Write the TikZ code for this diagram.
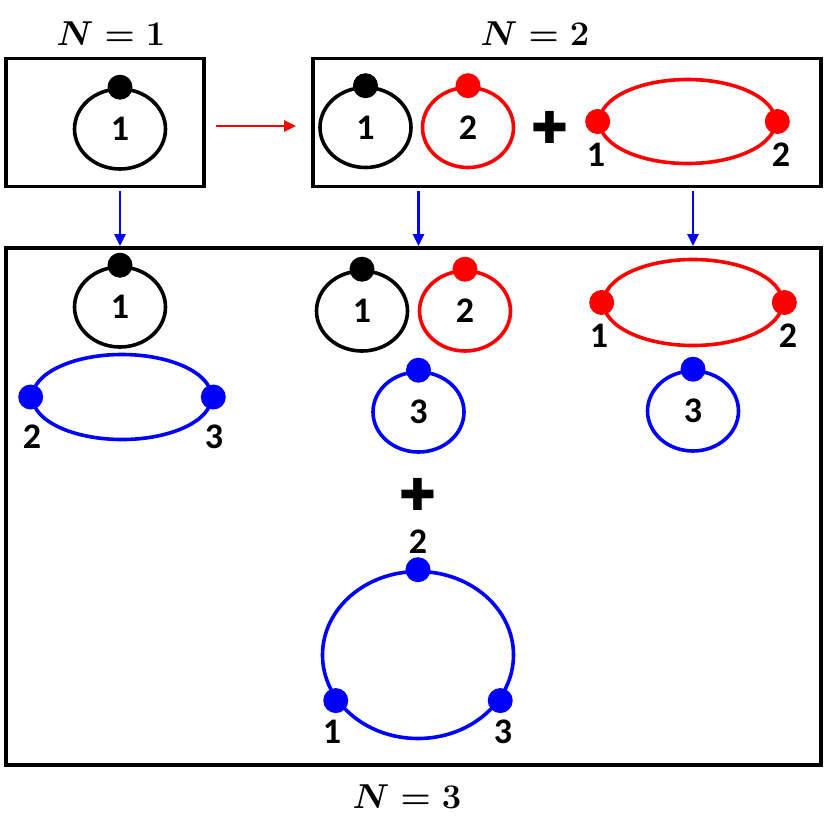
\documentclass[tikz,border=0pt]{standalone}
\usepackage[no-math]{fontspec}
\setmainfont{Carlito}
\newfontfamily\crossfont{DejaVu Sans}
\usetikzlibrary{positioning, arrows.meta, shapes.geometric}
\definecolor{ringRed}{HTML}{FF0000}
\definecolor{ringBlue}{HTML}{0000FF}

\tikzset{
  panel/.style={draw=black, line width=1.9pt, inner sep=0pt},
  ringnode/.style={ellipse, draw=#1, line width=1.8pt, inner sep=0pt,
    minimum width=45.5pt, minimum height=40pt,
    font=\fontsize{18}{20}\selectfont\bfseries},
  vertex/.style={circle, fill=#1, inner sep=0pt, minimum size=12.5pt},
  tag/.style={inner sep=0pt, font=\fontsize{18}{20}\selectfont\bfseries},
  title/.style={inner sep=0pt, font=\fontsize{18}{20}\selectfont\boldmath},
  plus/.style={inner sep=0pt, font=\crossfont\fontsize{22}{24}\selectfont},
  flow/.style={draw=#1, line width=1.2pt, -{Triangle[length=6pt, width=5.5pt]}}
}

\begin{document}
\begin{tikzpicture}[x=0.5pt, y=-0.5pt]
  \useasboundingbox (0,0) rectangle (830,830);

  % frames and titles
  \node[panel, minimum width=99pt, minimum height=64pt] (box1) at (105,122.5) {};
  \node[panel, minimum width=254pt, minimum height=64pt] (box2) at (567,122.5) {};
  \node[panel, minimum width=407.5pt, minimum height=258.5pt] (box3) at (413.5,506.5) {};
  \node[title] (t1) at (111,34) {$N=1$};
  \node[title] (t2) at (535,34) {$N=2$};
  \node[title] (t3) at (407,797) {$N=3$};

  % N = 1
  \node[ringnode=black] (a1) at (120,129) {1};
  \node[vertex=black] (a1d) at (a1.north) {};

  % N = 2
  \node[ringnode=black] (b1) at (365.5,127.5) {1};
  \node[vertex=black] (b1d) at (b1.north) {};
  \node[ringnode=ringRed] (b2) at (468,127.5) {2};
  \node[vertex=ringRed] (b2d) at (b2.north) {};
  \node[plus] (bp) at (550,127) {✚};
  \node[ringnode=ringRed, minimum width=88pt, minimum height=42pt] (b12) at (687.5,121.5) {};
  \node[vertex=ringRed] (b12w) at (b12.west) {};
  \node[vertex=ringRed] (b12e) at (b12.east) {};
  \node[tag] at (596,155) {1};
  \node[tag] at (781,155) {2};

  % N = 3, left column
  \node[ringnode=black] (c1) at (120,307) {1};
  \node[vertex=black] (c1d) at (c1.north) {};
  \node[ringnode=ringBlue, minimum width=89.5pt, minimum height=42.5pt] (c23) at (122,397) {};
  \node[vertex=ringBlue] (c23w) at (c23.west) {};
  \node[vertex=ringBlue] (c23e) at (c23.east) {};
  \node[tag] at (32,437) {2};
  \node[tag] at (214,437) {3};

  % N = 3, middle column
  \node[ringnode=black] (m1) at (362,311) {1};
  \node[vertex=black] (m1d) at (m1.north) {};
  \node[ringnode=ringRed] (m2) at (465,311) {2};
  \node[vertex=ringRed] (m2d) at (m2.north) {};
  \node[ringnode=ringBlue] (m3) at (418.5,412) {3};
  \node[vertex=ringBlue] (m3d) at (m3.north) {};
  \node[plus] (mp) at (418,494) {✚};
  \node[ringnode=ringBlue, minimum width=95.5pt, minimum height=83.5pt] (m123) at (418,655) {};
  \node[vertex=ringBlue] (m123n) at (m123.north) {};
  \node[vertex=ringBlue] (m123a) at (m123.209) {};
  \node[vertex=ringBlue] (m123b) at (m123.331) {};
  \node[tag] at (418,542) {2};
  \node[tag] at (332,732) {1};
  \node[tag] at (503,732) {3};

  % N = 3, right column
  \node[ringnode=ringRed, minimum width=89.5pt, minimum height=43pt] (r12) at (693,302.5) {};
  \node[vertex=ringRed] (r12w) at (r12.west) {};
  \node[vertex=ringRed] (r12e) at (r12.east) {};
  \node[tag] at (599,336) {1};
  \node[tag] at (788,336) {2};
  \node[ringnode=ringBlue] (r3) at (693,411) {3};
  \node[vertex=ringBlue] (r3d) at (r3.north) {};

  % arrows
  \draw[flow=ringRed] ([xshift=5pt, yshift=-1.75pt]box1.east) -- ([xshift=-7.5pt, yshift=-1.75pt]box2.west);
  \draw[flow=ringBlue] ([yshift=-1.5pt]box1.south -| a1) -- (box3.north -| a1);
  \draw[flow=ringBlue] ([yshift=-1.5pt]box2.south -| m3) -- (box3.north -| m3);
  \draw[flow=ringBlue] ([yshift=-1.5pt]box2.south -| r3) -- (box3.north -| r3);
\end{tikzpicture}
\end{document}
